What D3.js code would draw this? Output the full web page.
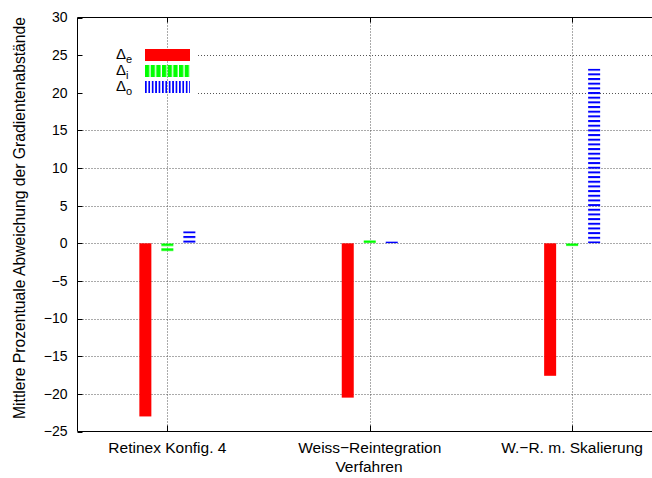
<!DOCTYPE html>
<html>
<head>
<meta charset="utf-8">
<script src="https://cdn.jsdelivr.net/npm/d3@7"></script>
<style>
  body { margin: 0; background: #fff; }
  text { font-family: "Liberation Sans", Arial, sans-serif; fill: #000; }
</style>
</head>
<body>
<div id="chart"></div>
<script>
(function () {
"use strict";

// data
var categories = ["Retinex Konfig. 4", "Weiss\u2212Reintegration", "W.\u2212R. m. Skalierung"];
var seriesNames = ["e", "i", "o"];
var deltaE = [-23.0, -20.5, -17.6];
var deltaI = [-1.1, 0.4, -0.4];
var deltaO = [1.6, 0.25, 23.2];
var yTicks = [-25, -20, -15, -10, -5, 0, 5, 10, 15, 20, 25, 30];

var width = 652,
    height = 478,
    left = 77.5,
    top = 17.5,
    bottom = 431.5,
    right = 662;

var colors = ["#ff0000", "#00ff00", "#0000ff"];
var tickSize = 14,
    catSize = 15.5,
    titleSize = 15.5,
    ylabSize = 15.7;

var svg = d3.select("#chart").append("svg")
    .attr("width", width)
    .attr("height", height);

var y = d3.scaleLinear().domain([-25, 30]).range([bottom, top]);
var x = d3.scalePoint().domain(categories).range([left, right]).padding(0.444);
var offset = d3.scalePoint().domain(seriesNames).range([-22, 22]);
var barW = 12;

var defs = svg.append("defs");

// grid lines
var grid = svg.append("g").attr("class", "grid")
    .attr("stroke", "#555")
    .attr("stroke-width", 1)
    .attr("stroke-dasharray", "1,2");

grid.selectAll("line.h")
    .data(yTicks.filter(function (d) { return d > -25 && d < 30; }))
    .enter().append("line")
    .attr("class", "h")
    .attr("x1", function (d) { return d >= 20 ? 198 : left + 5; })
    .attr("x2", width)
    .attr("y1", function (d) { return Math.round(y(d)) + 0.5; })
    .attr("y2", function (d) { return Math.round(y(d)) + 0.5; });

grid.selectAll("line.v")
    .data(categories)
    .enter().append("line")
    .attr("class", "v")
    .attr("x1", function (d) { return Math.round(x(d)) + 0.5; })
    .attr("x2", function (d) { return Math.round(x(d)) + 0.5; })
    .attr("y1", top + 5)
    .attr("y2", bottom - 6);

// bars
var bars = [];
categories.forEach(function (c, i) {
    bars.push({cat: c, s: 0, v: deltaE[i]});
    bars.push({cat: c, s: 1, v: deltaI[i]});
    bars.push({cat: c, s: 2, v: deltaO[i]});
});

function barTop(d) { return y(Math.max(0, d.v)); }

// striped patterns, one per bar, anchored on the top of the bar
var stripe = [null, {period: 5, thick: 2.7}, {period: 4.67, thick: 2}];
defs.selectAll("pattern.bar")
    .data(bars.filter(function (d) { return d.s > 0; }))
    .enter().append("pattern")
    .attr("class", "bar")
    .attr("id", function (d) { return "pb" + d.s + "_" + categories.indexOf(d.cat); })
    .attr("patternUnits", "userSpaceOnUse")
    .attr("width", 20)
    .attr("height", function (d) { return stripe[d.s].period; })
    .attr("patternTransform", function (d) { return "translate(0," + barTop(d) + ")"; })
    .append("rect")
    .attr("width", 20)
    .attr("height", function (d) { return stripe[d.s].thick; })
    .attr("fill", function (d) { return colors[d.s]; });

svg.append("g").selectAll("rect")
    .data(bars)
    .enter().append("rect")
    .attr("x", function (d) { return x(d.cat) + offset(seriesNames[d.s]) - barW / 2; })
    .attr("width", barW)
    .attr("y", barTop)
    .attr("height", function (d) { return Math.abs(y(d.v) - y(0)); })
    .attr("fill", function (d) {
        return d.s === 0 ? colors[0] : "url(#pb" + d.s + "_" + categories.indexOf(d.cat) + ")";
    });

// frame
svg.append("path")
    .attr("fill", "none")
    .attr("stroke", "#000")
    .attr("stroke-width", 1)
    .attr("d", "M" + width + "," + top + "H" + left + "V" + bottom + "H" + width);

// y ticks
var yAxis = svg.append("g");
yAxis.selectAll("line")
    .data(yTicks)
    .enter().append("line")
    .attr("x1", left).attr("x2", left + 5)
    .attr("y1", function (d) { return Math.round(y(d)) + 0.5; })
    .attr("y2", function (d) { return Math.round(y(d)) + 0.5; })
    .attr("stroke", "#000");
yAxis.selectAll("text")
    .data(yTicks)
    .enter().append("text")
    .attr("x", left - 10)
    .attr("y", function (d) { return y(d); })
    .attr("dy", "0.35em")
    .attr("text-anchor", "end")
    .style("font-size", tickSize + "px")
    .text(function (d) { return d < 0 ? "\u2212" + (-d) : d; });

// x ticks
var xAxis = svg.append("g");
xAxis.selectAll("line.b")
    .data(categories)
    .enter().append("line")
    .attr("x1", function (d) { return Math.round(x(d)) + 0.5; })
    .attr("x2", function (d) { return Math.round(x(d)) + 0.5; })
    .attr("y1", bottom).attr("y2", bottom - 6)
    .attr("stroke", "#000");
xAxis.selectAll("line.t")
    .data(categories)
    .enter().append("line")
    .attr("x1", function (d) { return Math.round(x(d)) + 0.5; })
    .attr("x2", function (d) { return Math.round(x(d)) + 0.5; })
    .attr("y1", top).attr("y2", top + 5)
    .attr("stroke", "#000");
xAxis.selectAll("text")
    .data(categories)
    .enter().append("text")
    .attr("x", function (d) { return x(d); })
    .attr("y", 453)
    .attr("text-anchor", "middle")
    .style("font-size", catSize + "px")
    .text(function (d) { return d; });

// axis titles
svg.append("text")
    .attr("x", 369)
    .attr("y", 472)
    .attr("text-anchor", "middle")
    .style("font-size", titleSize + "px")
    .text("Verfahren");

svg.append("text")
    .attr("transform", "translate(25,218) rotate(-90)")
    .attr("text-anchor", "middle")
    .style("font-size", ylabSize + "px")
    .text("Mittlere Prozentuale Abweichung der Gradientenabst\u00e4nde");

// legend
var legendStripe = [null, {period: 5.67, thick: 4.3}, {period: 3.4, thick: 1.7}];
defs.selectAll("pattern.leg")
    .data([1, 2])
    .enter().append("pattern")
    .attr("class", "leg")
    .attr("id", function (d) { return "pl" + d; })
    .attr("patternUnits", "userSpaceOnUse")
    .attr("width", function (d) { return legendStripe[d].period; })
    .attr("height", 20)
    .attr("patternTransform", "translate(145,0)")
    .append("rect")
    .attr("width", function (d) { return legendStripe[d].thick; })
    .attr("height", 20)
    .attr("fill", function (d) { return colors[d]; });

var legend = svg.append("g").selectAll("g")
    .data(seriesNames)
    .enter().append("g")
    .attr("transform", function (d, i) { return "translate(0," + (55 + i * 16) + ")"; });

legend.append("rect")
    .attr("x", 145)
    .attr("y", -6)
    .attr("width", 45)
    .attr("height", 12)
    .attr("fill", function (d, i) { return i === 0 ? colors[0] : "url(#pl" + i + ")"; });

var lt = legend.append("text")
    .attr("x", 116)
    .attr("y", 4)
    .style("font-size", "15px");
lt.append("tspan").text("\u0394");
lt.append("tspan")
    .attr("dy", 4)
    .style("font-size", "11px")
    .text(function (d) { return d; });

})();
</script>
</body>
</html>
